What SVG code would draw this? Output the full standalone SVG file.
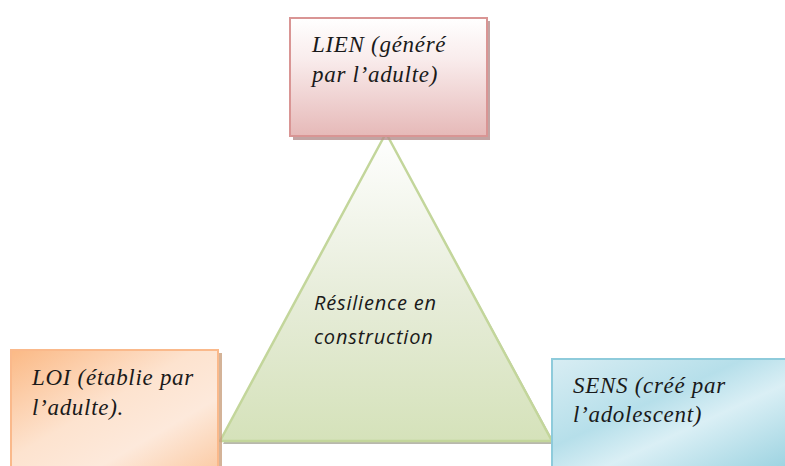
<svg xmlns="http://www.w3.org/2000/svg" width="785" height="466" viewBox="0 0 785 466">
<defs>
<linearGradient id="gPink" x1="0" y1="0" x2="0" y2="1">
<stop offset="0" stop-color="#ffffff"/><stop offset="0.35" stop-color="#f9ecec"/><stop offset="1" stop-color="#e6b9b8"/>
</linearGradient>
<linearGradient id="gGreen" x1="0" y1="0" x2="0" y2="1">
<stop offset="0" stop-color="#ffffff"/><stop offset="0.55" stop-color="#e6ecd8"/><stop offset="1" stop-color="#d5e2ba"/>
</linearGradient>
<linearGradient id="gOrange" x1="0" y1="0" x2="1" y2="1">
<stop offset="0" stop-color="#fbb985"/><stop offset="0.45" stop-color="#fde3cf"/><stop offset="0.7" stop-color="#fde9db"/><stop offset="1" stop-color="#fbcba5"/>
</linearGradient>
<linearGradient id="gBlue" x1="0" y1="0" x2="1" y2="1">
<stop offset="0" stop-color="#d8edf3"/><stop offset="0.4" stop-color="#b6dfea"/><stop offset="0.6" stop-color="#daeff5"/><stop offset="1" stop-color="#9ad2e0"/>
</linearGradient>
<style>
.box{stroke-width:2}
.lbl{font-family:'Liberation Serif',serif;font-style:italic;font-size:23px;letter-spacing:0.7px;fill:#1a1a1a}
.mid{font-family:'Open Sans',sans-serif;font-style:italic;font-size:20px;letter-spacing:0.8px;fill:#1a1a1a}
</style>
</defs>
<g id="triangle">
<polygon points="389,138 223,444 555,444" fill="#9a9a8a" opacity="0.7"/>
<polygon points="386,133 220,441 552,441" fill="url(#gGreen)" stroke="#c3d69b" stroke-width="2.5" stroke-linejoin="round"/>
<text class="mid" x="314" y="310">Résilience en</text>
<text class="mid" x="314" y="344">construction</text>
</g>
<g id="lien">
<rect x="293" y="21" width="197" height="119" fill="#b38d8c" opacity="0.8"/>
<rect class="box" x="290" y="18" width="197" height="118" fill="url(#gPink)" stroke="#d99594"/>
<text class="lbl" x="312" y="52">LIEN (généré</text>
<text class="lbl" x="312" y="82">par l’adulte)</text>
</g>
<g id="loi">
<rect x="14" y="353" width="208" height="120" fill="#c9a07e" opacity="0.8"/>
<rect class="box" x="11" y="350" width="207" height="120" fill="url(#gOrange)" stroke="#fab98b"/>
<text class="lbl" x="32" y="385">LOI (établie par</text>
<text class="lbl" x="32" y="415">l’adulte).</text>
</g>
<g id="sens">
<rect class="box" x="552" y="359" width="240" height="110" fill="url(#gBlue)" stroke="#8ecbdb"/>
<text class="lbl" x="573" y="393">SENS (créé par</text>
<text class="lbl" x="573" y="422">l’adolescent)</text>
</g>
<g id="connectors"></g>
</svg>
